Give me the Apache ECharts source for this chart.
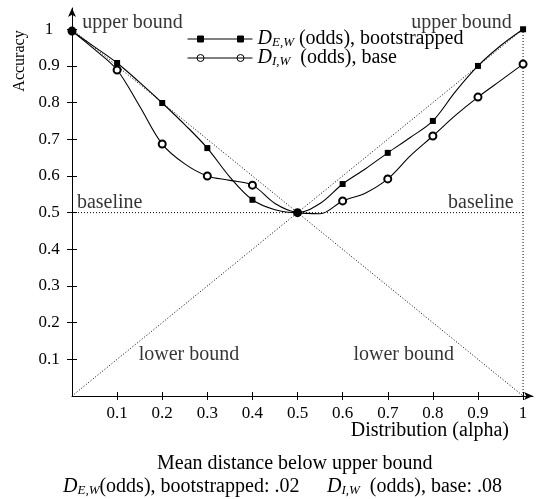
<!DOCTYPE html>
<html>
<head>
<meta charset="utf-8">
<script src="https://cdn.jsdelivr.net/npm/echarts@6/dist/echarts.min.js"></script>
<style>
  html, body { margin: 0; padding: 0; background: #fff; }
  #container { width: 537px; height: 499px; }
</style>
</head>
<body>
<div id="container"></div>
<script>
// alpha values, markers only every 0.1
var alphas = [0, 0.05, 0.1, 0.15, 0.2, 0.25, 0.3, 0.35, 0.4, 0.45, 0.5,
              0.55, 0.6, 0.65, 0.7, 0.75, 0.8, 0.85, 0.9, 0.95, 1];
var bootstrapped = [0.995, 0.952, 0.908, 0.855, 0.799, 0.74, 0.676, 0.597, 0.535, 0.508, 0.5,
                    0.525, 0.578, 0.619, 0.663, 0.705, 0.75, 0.83, 0.9, 0.955, 1.0];
var base = [0.995, 0.945, 0.889, 0.79, 0.687, 0.633, 0.6, 0.588, 0.575, 0.525, 0.5,
            0.497, 0.532, 0.553, 0.592, 0.655, 0.709, 0.765, 0.815, 0.86, 0.905];

var upperBound = [[0, 1], [0.5, 0.5], [1, 1]];
var lowerBound = [[0, 0], [0.5, 0.5], [1, 0]];
var baseline = [[0, 0.5], [1, 0.5]];
var rightEdge = [[1, 0], [1, 1]];

var xTicks = [0.1, 0.2, 0.3, 0.4, 0.5, 0.6, 0.7, 0.8, 0.9, 1];
var yTicks = [0.1, 0.2, 0.3, 0.4, 0.5, 0.6, 0.7, 0.8, 0.9, 1];

var notes = ['upper bound', 'upper bound', 'baseline', 'baseline', 'lower bound', 'lower bound'];
var noteX = [0.024, 0.976, 0.012, 0.98, 0.149, 0.625];
var noteY = [1.017, 1.017, 0.526, 0.526, 0.112, 0.112];
var noteAlign = ['left', 'right', 'left', 'right', 'left', 'left'];

var nameE = 'bootstrapped';
var nameI = 'base';

var font = "'Liberation Serif', 'DejaVu Serif', serif";
var rich = {
    d: {fontStyle: 'italic', fontSize: 20, fontFamily: font, color: '#000'},
    s: {fontStyle: 'italic', fontSize: 13, fontFamily: font, color: '#000', padding: [8, 0, 0, 0]}
};
var plain = {fontFamily: font, fontSize: 20, fontWeight: 'normal', color: '#000', rich: rich};

function pairs(ys) {
    var out = [];
    for (var i = 0; i < alphas.length; i++) {
        out.push([alphas[i], ys[i]]);
    }
    return out;
}

var myChart = echarts.init(document.getElementById('container'));

var dotted = {color: '#000', width: 1, type: [1, 2]};
function refLine(data) {
    return {
        type: 'line', data: data, symbol: 'none', silent: true,
        lineStyle: dotted, z: 1
    };
}

var noteData = [];
for (var i = 0; i < notes.length; i++) {
    noteData.push({
        value: [noteX[i], noteY[i]], name: notes[i],
        label: {align: noteAlign[i]}
    });
}

var iconSquare = 'path://M0,3.5L65,3.5M10,0.5h6v6h-6zM50,0.5h6v6h-6z';
var iconCircle = 'path://M0,4L65,4M16.5,4A3.5,3.5,0,1,1,9.5,4A3.5,3.5,0,1,1,16.5,4M56.5,4A3.5,3.5,0,1,1,49.5,4A3.5,3.5,0,1,1,56.5,4';

var option = {
    animation: false,
    backgroundColor: '#fff',
    textStyle: {fontFamily: font, color: '#000'},
    grid: {left: 72, right: 4, top: 8, bottom: 103},
    title: [
        {text: 'Distribution (alpha)', right: 23, top: 416, textStyle: plain},
        {text: 'Mean distance below upper bound', left: 152, top: 449, textStyle: plain},
        {text: '{d|D}{s|E,W}(odds), bootstrapped: .02', left: 58, top: 471, textStyle: plain},
        {text: '{d|D}{s|I,W}  (odds), base: .08', left: 322, top: 471, textStyle: plain}
    ],
    graphic: [{
        type: 'text', x: 20, y: 61, rotation: Math.PI / 2,
        style: {text: 'Accuracy', fontFamily: font, fontSize: 16, fill: '#000',
            textAlign: 'center', textVerticalAlign: 'middle'}
    }],
    legend: [
        {data: [{name: nameE, icon: iconSquare,
                 itemStyle: {color: '#000', borderColor: '#000', borderWidth: 1}}],
         left: 182, top: 24, itemWidth: 65, itemHeight: 6, selectedMode: false,
         textStyle: plain,
         formatter: function () { return '{d|D}{s|E,W} (odds), bootstrapped'; }},
        {data: [{name: nameI, icon: iconCircle,
                 itemStyle: {color: '#fff', borderColor: '#000', borderWidth: 1}}],
         left: 182, top: 43, itemWidth: 65, itemHeight: 7, selectedMode: false,
         textStyle: plain,
         formatter: function () { return '{d|D}{s|I,W}  (odds), base'; }}
    ],
    xAxis: [{
        type: 'value', min: 0, max: 1.022,
        splitLine: {show: false},
        axisLine: {lineStyle: {color: '#000', width: 1}, symbol: ['none', 'arrow'], symbolSize: [6, 9]},
        axisTick: {customValues: xTicks, length: 4, lineStyle: {color: '#000'}},
        axisLabel: {customValues: xTicks, margin: 9, fontSize: 17, fontFamily: font, color: '#000'}
    }, {
        type: 'value', min: 0, max: 1.022, position: 'bottom',
        splitLine: {show: false},
        axisLine: {show: false},
        axisTick: {customValues: xTicks, inside: true, length: 4, lineStyle: {color: '#000'}},
        axisLabel: {show: false}
    }],
    yAxis: [{
        type: 'value', min: 0, max: 1.058,
        splitLine: {show: false},
        axisLine: {lineStyle: {color: '#000', width: 1}, symbol: ['none', 'arrow'], symbolSize: [6, 9]},
        axisTick: {customValues: yTicks, length: 5, lineStyle: {color: '#000'}},
        axisLabel: {customValues: yTicks, margin: 23, align: 'center', fontSize: 17, fontFamily: font, color: '#000'}
    }, {
        type: 'value', min: 0, max: 1.058, position: 'left',
        splitLine: {show: false},
        axisLine: {show: false},
        axisTick: {customValues: yTicks, inside: true, length: 5, lineStyle: {color: '#000'}},
        axisLabel: {show: false}
    }],
    series: [
        refLine(upperBound),
        refLine(lowerBound),
        refLine(baseline),
        refLine(rightEdge),
        {
            name: nameI, type: 'line', data: pairs(base), smooth: 0.35,
            showAllSymbol: true,
            symbol: function (v, p) { return p.dataIndex % 2 === 0 ? 'emptyCircle' : 'none'; },
            symbolSize: 7,
            lineStyle: {color: '#000', width: 1.1},
            itemStyle: {color: '#000', borderColor: '#000', borderWidth: 1},
            z: 3
        },
        {
            name: nameE, type: 'line', data: pairs(bootstrapped), smooth: 0.35,
            showAllSymbol: true,
            symbol: function (v, p) { return p.dataIndex % 2 === 0 ? 'rect' : 'none'; },
            symbolSize: 6,
            lineStyle: {color: '#000', width: 1.1},
            itemStyle: {color: '#000'},
            z: 4
        },
        {
            type: 'scatter', data: noteData, symbolSize: 1, silent: true,
            itemStyle: {color: 'rgba(0,0,0,0)'},
            label: {
                show: true, position: [0, 0], verticalAlign: 'middle',
                formatter: '{b}', fontFamily: font, fontSize: 20, color: '#000'
            },
            z: 5
        }
    ]
};

myChart.setOption(option);
</script>
</body>
</html>
